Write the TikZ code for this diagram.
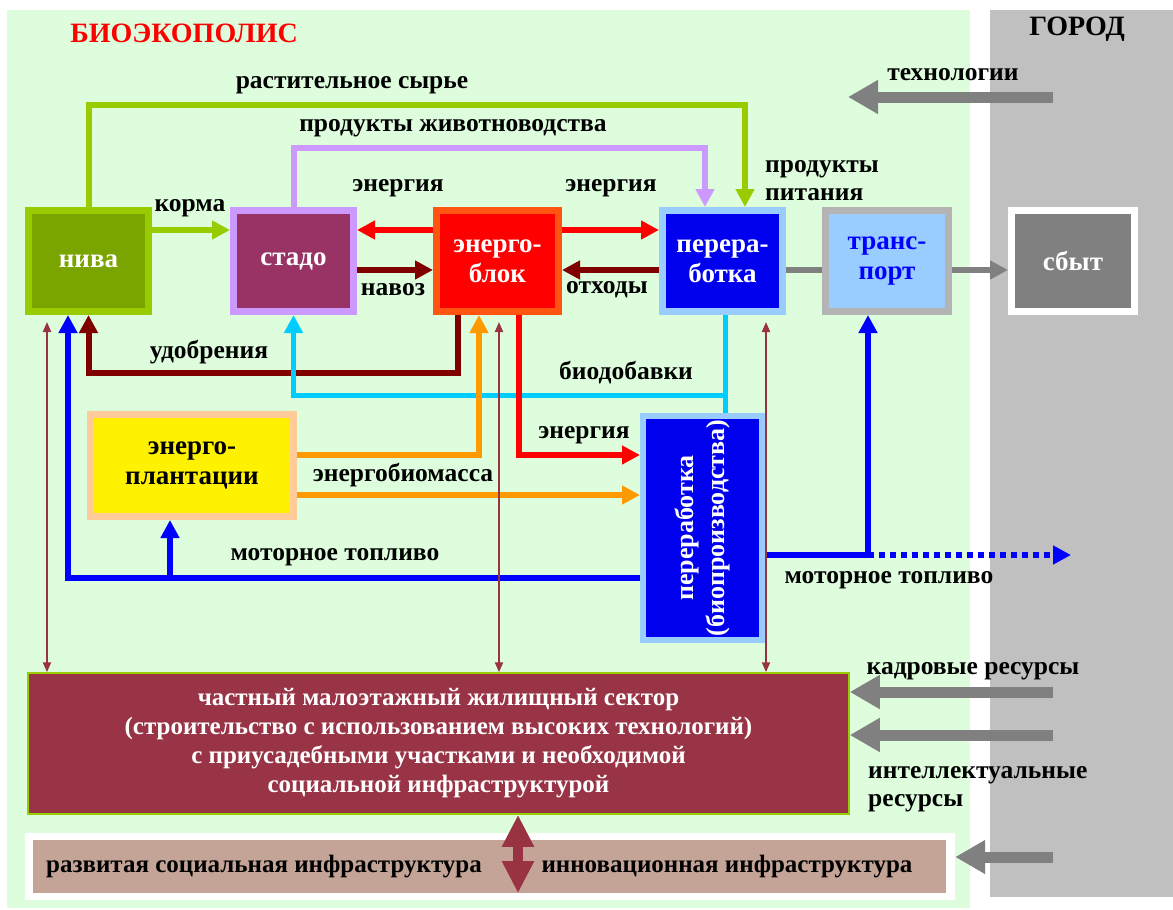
\documentclass[tikz,border=0pt]{standalone}
\usepackage{fontspec}
\setmainfont{Liberation Serif}
\usetikzlibrary{arrows.meta, positioning}

\definecolor{bggreen}{RGB}{221,253,221}
\definecolor{citygray}{RGB}{192,192,192}
\definecolor{nivafill}{RGB}{122,164,0}
\definecolor{leafgreen}{RGB}{153,204,0}
\definecolor{herdfill}{RGB}{153,51,102}
\definecolor{lilac}{RGB}{204,153,255}
\definecolor{blockedge}{RGB}{255,85,17}
\definecolor{skyblue}{RGB}{153,204,255}
\definecolor{procblue}{RGB}{0,0,238}
\definecolor{transedge}{RGB}{180,180,180}
\definecolor{salesgray}{RGB}{128,128,128}
\definecolor{peach}{RGB}{255,204,153}
\definecolor{housefill}{RGB}{153,52,70}
\definecolor{infrafill}{RGB}{196,164,150}
\definecolor{manure}{RGB}{128,0,0}
\definecolor{orangeflow}{RGB}{255,153,0}
\definecolor{cyanflow}{RGB}{0,204,255}
\definecolor{linkbrown}{RGB}{153,51,68}

\begin{document}
\begin{tikzpicture}[x=1pt,y=-1pt,
  box/.style={draw, line width=7pt, inner sep=0pt, minimum width=120pt, minimum height=101pt,
    align=center, text=white, font=\fontsize{27}{30}\selectfont\bfseries},
  lbl/.style={font=\fontsize{25.5}{28}\selectfont\bfseries, inner sep=0pt, yshift=-3pt},
  flow/.style={line width=6pt, -{Triangle[length=18pt,width=18pt]}},
  flowline/.style={line width=6pt},
  cityarrow/.style={salesgray, line width=11pt, -{Triangle[length=30pt,width=32pt]}},
  link/.style={linkbrown, line width=2pt, shorten <=7pt,
    {Triangle[length=10pt,width=8pt]}-{Triangle[length=10pt,width=8pt]}}]
\useasboundingbox (0,0) rectangle (1173,910);
\fill [bggreen] (7,10) rectangle (970,908);
\fill [citygray] (990,10) rectangle (1173,897);
\node at (184,30) [lbl, font=\fontsize{28}{30}\selectfont\bfseries, text=red] {БИОЭКОПОЛИС};
\node at (1077,26) [lbl, font=\fontsize{28}{30}\selectfont\bfseries] {ГОРОД};
% boxes
\node (niva) at (88.5,261) [box, draw=leafgreen, fill=nivafill] {нива};
\node (stado) at (293.5,261) [box, draw=lilac, fill=herdfill] {стадо};
\node (eblok) at (497.5,261) [box, draw=blockedge, fill=red, minimum width=122pt] {энерго-\\блок};
\node (perer) at (722.5,261) [box, draw=skyblue, fill=procblue] {перера-\\ботка};
\node (transp) at (887,261) [box, draw=transedge, fill=skyblue, text=blue, minimum width=123pt] {транс-\\порт};
\node (sbyt) at (1073,261) [box, draw=white, fill=salesgray, minimum width=123pt] {сбыт};
\node (eplant) at (192,465.5) [box, draw=peach, fill=yellow, text=black, minimum width=203pt, minimum height=102pt] {энерго-\\плантации};
\node (bio) at (702.5,528) [box, draw=skyblue, fill=procblue, line width=6pt, minimum width=119pt, minimum height=224pt] {};
\node (biotext) at (bio.center) [rotate=90, align=center, text=white, font=\fontsize{26}{31}\selectfont\bfseries] {переработка\\(биопроизводства)};
\node (housing) at (438.5,743.5) [draw=leafgreen, line width=1.5pt, fill=housefill, minimum width=821pt, minimum height=141pt,
  inner sep=0pt, text=white, align=center, font=\fontsize{25}{29}\selectfont\bfseries]
  {частный малоэтажный жилищный сектор\\(строительство с использованием высоких технологий)\\с приусадебными участками и необходимой\\социальной инфраструктурой};
\node (infraband) at (490,866.5) [fill=white, minimum width=930pt, minimum height=67pt, inner sep=0pt] {};
\node (infra) at (489.5,866.5) [fill=infrafill, minimum width=913pt, minimum height=53pt, inner sep=0pt] {};
\node at (264,864) [lbl, font=\fontsize{25}{28}\selectfont\bfseries] {развитая социальная инфраструктура};
\node at (727,864) [lbl, font=\fontsize{25}{28}\selectfont\bfseries] {инновационная инфраструктура};
% helper points
\coordinate (upper) at (0,230);
\coordinate (lower) at (0,270);
\coordinate (rawtop) at (745,105);
\coordinate (milktop) at (705,148);
\coordinate (fertlow) at (458,373);
\coordinate (bioadd) at (725,395);
\coordinate (energylow) at (519,455);
\coordinate (massup) at (479,455);
\coordinate (masslow) at (0,495);
\coordinate (fuelleft) at (68,578);
\coordinate (fuelsplit) at (170,578);
\coordinate (fuelright) at (868,555);
\coordinate (fuelout) at (1071,555);
\coordinate (linkA) at (47,0);
\coordinate (linkB) at (499,0);
\coordinate (linkC) at (766,0);
\coordinate (dbl) at (518,0);
\coordinate (techsrc) at (1053,97);
\coordinate (techdst) at (848,97);
\coordinate (staffsrc) at (1053,692);
\coordinate (mindsrc) at (1053,735);
\coordinate (innosrc) at (1053,857);
% flows
\draw [flow, leafgreen] (niva.north) |- (rawtop) -- (rawtop |- perer.north);
\draw [flow, lilac] (stado.north) |- (milktop) -- (milktop |- perer.north);
\draw [flow, leafgreen] (niva.east |- upper) -- (stado.west |- upper);
\draw [flow, red] (eblok.west |- upper) -- (stado.east |- upper);
\draw [flow, manure] (stado.east |- lower) -- (eblok.west |- lower);
\draw [flow, red] (eblok.east |- upper) -- (perer.west |- upper);
\draw [flow, manure] (perer.west |- lower) -- (eblok.east |- lower);
\draw [flowline, salesgray] (perer.east |- lower) -- (transp.west |- lower);
\draw [flow, salesgray] (transp.east |- lower) -- (sbyt.west |- lower);
\draw [flow, manure] (fertlow |- eblok.south) -- (fertlow) -| (niva.south);
\draw [flowline, cyanflow, line width=5pt] (bioadd |- perer.south) -- (bioadd |- bio.north);
\draw [flow, cyanflow, line width=5pt] (bioadd) -| (stado.south);
\draw [flow, red] (energylow |- eblok.south) |- (bio.west |- energylow);
\draw [flow, orangeflow] (eplant.east |- massup) -| (massup |- eblok.south);
\draw [flow, orangeflow] (eplant.east |- masslow) -- (bio.west |- masslow);
\draw [flow, blue] (bio.west |- fuelleft) -| (niva.south -| fuelleft);
\draw [flow, blue] (fuelsplit) -- (fuelsplit |- eplant.south);
\draw [flowline, blue] (bio.east |- fuelright) -- (fuelright);
\draw [flow, blue] (fuelright) -- (fuelright |- transp.south);
\draw [flow, blue, dash pattern=on 6pt off 5pt] (fuelright) -- (fuelout);
% links to housing
\draw [link] (niva.south -| linkA) -- (housing.north -| linkA);
\draw [link] (eblok.south -| linkB) -- (housing.north -| linkB);
\draw [link] (perer.south -| linkC) -- (housing.north -| linkC);
\draw [linkbrown, line width=10pt, {Triangle[length=32pt,width=30pt]}-{Triangle[length=32pt,width=30pt]}]
  (housing.south -| dbl) -- (infra.south -| dbl);
% city inputs
\draw [cityarrow] (techsrc) -- (techdst);
\draw [cityarrow] (staffsrc) -- (staffsrc -| housing.east);
\draw [cityarrow] (mindsrc) -- (mindsrc -| housing.east);
\draw [cityarrow] (innosrc) -- (innosrc -| infraband.east);
% labels
\node at (953,72) [lbl] {технологии};
\node at (352,82) [lbl] {растительное сырье};
\node at (453,125) [lbl] {продукты животноводства};
\node at (765,177.5) [lbl, anchor=west, align=left] {продукты\\питания};
\node at (190,205) [lbl] {корма};
\node at (398,185) [lbl] {энергия};
\node at (393,287) [lbl] {навоз};
\node at (611,185) [lbl] {энергия};
\node at (607,287) [lbl] {отходы};
\node at (209,349) [lbl] {удобрения};
\node at (626,370) [lbl] {биодобавки};
\node at (584,432) [lbl] {энергия};
\node at (403,472) [lbl] {энергобиомасса};
\node at (335,554) [lbl] {моторное топливо};
\node at (889,577) [lbl] {моторное топливо};
\node at (973,668) [lbl] {кадровые ресурсы};
\node at (868,786) [lbl, anchor=west, align=left] {интеллектуальные\\ресурсы};
\end{tikzpicture}
\end{document}
